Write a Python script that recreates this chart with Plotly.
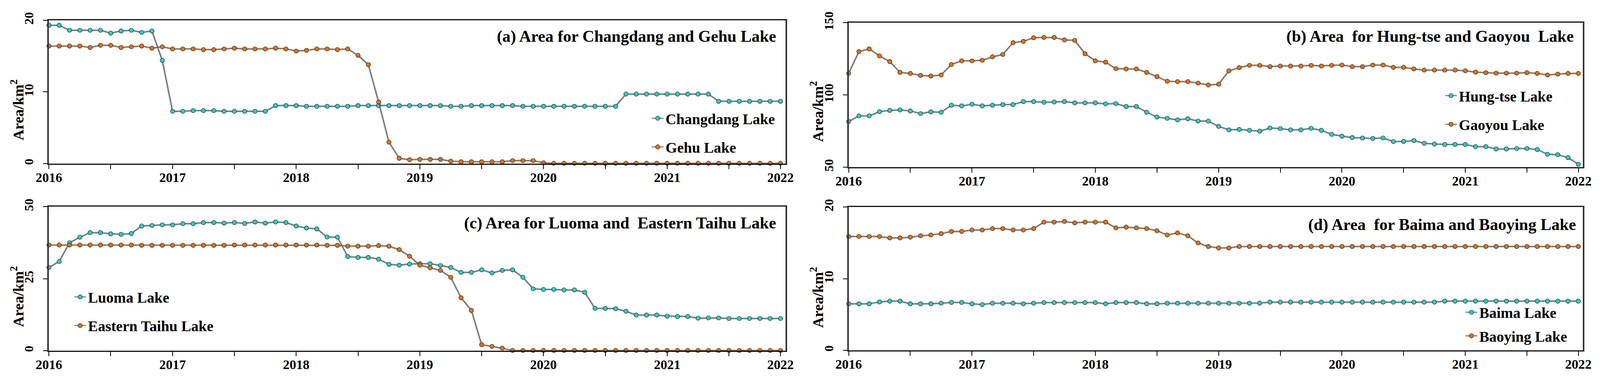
import plotly.graph_objects as go

# ---------------- data (monthly, Jan-2016 .. Dec-2021) ----------------
month_index = list(range(72))
major_ticks = [0, 12, 24, 36, 48, 60, 71]
major_labels = ["2016", "2017", "2018", "2019", "2020", "2021", "2022"]
minor_ticks = [6, 18, 30, 42, 54, 66]

changdang = [19.3, 19.3, 18.6, 18.6, 18.6, 18.6, 18.2, 18.5, 18.6, 18.3, 18.5, 14.4,
             7.3, 7.3, 7.4, 7.4, 7.4, 7.3, 7.3, 7.3, 7.3, 7.3,
             8.1, 8.1, 8.1, 8.0, 8.0, 8.0, 8.0, 8.0, 8.1, 8.1, 8.1, 8.1, 8.1, 8.1,
             8.1, 8.1, 8.1, 8.0, 8.0, 8.1, 8.1, 8.1, 8.1, 8.1, 8.0, 8.0,
             8.0, 8.0, 8.0, 8.0, 8.0, 8.0, 8.0, 8.0,
             9.7, 9.7, 9.7, 9.7, 9.7, 9.7, 9.7, 9.7, 9.7,
             8.7, 8.7, 8.7, 8.7, 8.7, 8.7, 8.7]
gehu = [16.4, 16.4, 16.4, 16.4, 16.2, 16.5, 16.5, 16.2, 16.3, 16.4, 16.1, 16.3,
        16.0, 16.0, 16.0, 15.9, 15.9, 16.0, 16.1, 16.0, 16.0, 16.0, 16.1, 16.0,
        15.7, 15.8, 16.0, 16.0, 15.9, 16.0,
        15.1, 13.8, 8.6, 3.0, 0.75, 0.55, 0.6, 0.6, 0.6, 0.35,
        0.27, 0.27, 0.27, 0.27, 0.27, 0.43, 0.43, 0.43, 0.12,
        0.05, 0.05, 0.05, 0.05, 0.05, 0.05, 0.05, 0.05, 0.05, 0.05, 0.05, 0.05,
        0.05, 0.05, 0.05, 0.05, 0.05, 0.05, 0.05, 0.05, 0.05, 0.05, 0.05]

hungtse = [81.6, 85.5, 85.5, 88.4, 89.3, 89.6, 88.9, 87.1, 88.3, 88.0, 92.9, 92.4,
           93.6, 92.4, 92.9, 93.3, 93.3, 95.4, 95.4, 94.9, 95.1, 95.4, 94.5, 94.5,
           94.5, 93.8, 94.0, 92.0, 92.0, 88.0, 84.7, 83.8, 82.7, 83.5, 81.9, 81.9,
           78.2, 75.8, 76.1, 75.5, 74.9, 77.1, 76.7, 75.8, 75.8, 76.9, 75.5, 72.7,
           71.4, 70.5, 70.2, 69.9, 70.2, 67.7, 67.8, 68.4, 66.5, 66.0, 65.7, 65.7,
           65.7, 64.2, 64.2, 62.6, 62.6, 62.9, 62.9, 62.2, 58.9, 58.6, 56.6, 52.0]
gaoyou = [114.9, 130.0, 131.9, 127.0, 123.1, 115.6, 114.9, 113.5, 113.1, 113.8, 121.1, 123.6,
          123.6, 124.0, 126.4, 128.0, 136.2, 137.1, 139.6, 139.8, 139.8, 138.1, 137.8, 128.5,
          123.6, 122.7, 118.2, 118.0, 118.0, 115.6, 112.7, 109.5, 109.2, 109.2, 108.2, 106.9,
          107.4, 116.7, 118.9, 120.5, 120.5, 119.6, 120.0, 120.0, 120.0, 120.5, 120.0, 120.5,
          120.7, 119.6, 119.6, 120.7, 120.7, 119.1, 119.1, 118.0, 117.2, 117.2, 117.2, 117.2,
          116.7, 115.8, 115.4, 115.1, 115.1, 115.1, 115.4, 114.9, 113.8, 114.4, 114.9, 114.9]

luoma = [28.9, 31.0, 37.5, 39.4, 41.0, 41.0, 40.6, 40.4, 40.7, 43.3, 43.5, 43.7,
         43.7, 44.1, 44.1, 44.5, 44.5, 44.3, 44.5, 44.2, 44.7, 44.3, 44.7, 44.5,
         43.3, 42.6, 42.3, 39.5, 39.4, 32.7, 32.4, 32.4, 31.8, 30.0, 29.7, 30.1,
         30.2, 30.2, 29.6, 28.9, 27.2, 27.2, 28.1, 27.0, 27.9, 28.1, 25.5, 21.5,
         21.3, 21.3, 21.1, 21.1, 20.3, 14.7, 14.7, 14.6, 13.7, 12.4, 12.4, 12.4,
         12.0, 11.9, 11.9, 11.3, 11.4, 11.4, 11.2, 11.2, 11.2, 11.2, 11.2, 11.2]
eastern_taihu = [36.7, 36.7, 36.7, 36.7, 36.7, 36.7, 36.7, 36.7, 36.7,
                 36.6, 36.6, 36.6, 36.6, 36.6, 36.6, 36.6, 36.6, 36.6,
                 36.7, 36.7, 36.7, 36.7, 36.7, 36.7, 36.7, 36.7, 36.7,
                 36.6, 36.6, 36.3, 36.3, 36.3, 36.5, 36.3, 35.1, 32.8,
                 29.7, 28.8, 27.9, 25.5, 18.4, 14.0, 2.1, 1.5, 0.9,
                 0.1, 0.1, 0.1, 0.1, 0.1, 0.1, 0.1, 0.1, 0.1, 0.1, 0.1, 0.1, 0.1, 0.1,
                 0.1, 0.1, 0.1, 0.1, 0.1, 0.1, 0.1, 0.1, 0.1, 0.1, 0.1, 0.1, 0.1]

baima = [6.5, 6.5, 6.5, 6.76, 6.87, 6.87, 6.5, 6.5, 6.5, 6.58, 6.69, 6.69,
         6.5, 6.4, 6.58, 6.58, 6.58, 6.5, 6.58, 6.67, 6.67, 6.67, 6.67, 6.67,
         6.67, 6.5, 6.67, 6.67, 6.67, 6.5, 6.5, 6.58, 6.58, 6.58, 6.58, 6.58,
         6.58, 6.58, 6.58, 6.58, 6.6, 6.73, 6.73, 6.73, 6.73, 6.73, 6.73, 6.73,
         6.73, 6.73, 6.73, 6.73, 6.73, 6.73, 6.73, 6.73, 6.73, 6.73, 6.87, 6.87,
         6.87, 6.87, 6.87, 6.87, 6.87, 6.87, 6.87, 6.87, 6.87, 6.87, 6.87, 6.87]
baoying = [15.9, 15.9, 15.9, 15.9, 15.7, 15.7, 15.8, 16.0, 16.1, 16.3, 16.6, 16.6,
           16.8, 16.8, 17.0, 17.0, 16.8, 16.8, 17.0, 17.9, 17.9, 18.0, 17.8, 17.9,
           17.9, 17.9, 17.1, 17.2, 17.1, 17.0, 16.7, 16.1, 16.4, 16.0, 15.0, 14.5,
           14.3, 14.3, 14.5, 14.5, 14.5, 14.5, 14.5, 14.5, 14.5, 14.5, 14.5, 14.5,
           14.5, 14.5, 14.5, 14.5, 14.5, 14.5, 14.5, 14.5, 14.5, 14.5, 14.5, 14.5,
           14.5, 14.5, 14.5, 14.5, 14.5, 14.5, 14.5, 14.5, 14.5, 14.5, 14.5, 14.5]

panel_titles = ["(a) Area for Changdang and Gehu Lake",
                "(b) Area\u00a0 for Hung-tse and Gaoyou\u00a0 Lake",
                "(c) Area for Luoma and\u00a0 Eastern Taihu Lake",
                "(d) Area\u00a0 for Baima and Baoying Lake"]
y_ranges = [[0, 20], [50, 150], [0, 50], [0, 20]]
y_ticks = [[0, 10, 20], [50, 100, 150], [0, 25, 50], [0, 10, 20]]

# ---------------- styling ----------------
W, H = 4211, 973
FONT = "Liberation Serif"
CYAN = "#22D0D0"
ORANGE = "#E8700C"
LINE = "#555555"

def px_x(p):
    return p / W

def px_y(p):
    return 1 - p / H

panels = [
    dict(series=[("Changdang Lake", changdang, CYAN), ("Gehu Lake", gehu, ORANGE)],
         xd=[px_x(121), px_x(2067)], yd=[px_y(418), px_y(44.5)], xmax=71.48,
         title_xy=(px_x(2045), px_y(87)), ytitle_xy=(px_x(38), px_y(278)),
         legend=dict(x=px_x(1709), y=px_y(268), gap=21)),
    dict(series=[("Hung-tse Lake", hungtse, CYAN), ("Gaoyou Lake", gaoyou, ORANGE)],
         xd=[px_x(2234), px_x(4174)], yd=[px_y(427), px_y(51)], xmax=71.44,
         title_xy=(px_x(4152), px_y(87)), ytitle_xy=(px_x(2150), px_y(282)),
         legend=dict(x=px_x(3805), y=px_y(209), gap=21)),
    dict(series=[("Luoma Lake", luoma, CYAN), ("Eastern Taihu Lake", eastern_taihu, ORANGE)],
         xd=[px_x(121), px_x(2067)], yd=[px_y(905), px_y(530)], xmax=71.48,
         title_xy=(px_x(2045), px_y(573)), ytitle_xy=(px_x(38), px_y(764)),
         legend=dict(x=px_x(183), y=px_y(733), gap=21)),
    dict(series=[("Baima Lake", baima, CYAN), ("Baoying Lake", baoying, ORANGE)],
         xd=[px_x(2234), px_x(4174)], yd=[px_y(904), px_y(531)], xmax=71.44,
         title_xy=(px_x(4158), px_y(577)), ytitle_xy=(px_x(2150), px_y(766)),
         legend=dict(x=px_x(3859), y=px_y(773), gap=8)),
]

fig = go.Figure()
layout = dict(autosize=True, margin=dict(l=0, r=0, t=0, b=0, autoexpand=False),
              paper_bgcolor="white", plot_bgcolor="white",
              font=dict(family=FONT, color="black"), annotations=[])

for i, p in enumerate(panels):
    n = i + 1
    xa = "x" if n == 1 else f"x{n}"
    ya = "y" if n == 1 else f"y{n}"
    lg = "legend" if n == 1 else f"legend{n}"
    for name, vals, col in p["series"]:
        fig.add_trace(go.Scatter(x=month_index, y=vals, mode="lines", xaxis=xa, yaxis=ya,
                                 line=dict(color="rgba(150,150,150,0.45)", width=6),
                                 showlegend=False, hoverinfo="skip", cliponaxis=False))
    for name, vals, col in p["series"]:
        fig.add_trace(go.Scatter(x=month_index, y=vals, mode="lines+markers", name=name,
                                 xaxis=xa, yaxis=ya, legend=lg, legendgroup=f"{n}{name}",
                                 line=dict(color=LINE, width=2),
                                 marker=dict(symbol="circle", size=11, color=col,
                                             line=dict(color="#2a2a2a", width=1.2)),
                                 cliponaxis=False))
    layout[f"xaxis{'' if n == 1 else n}"] = dict(
        domain=p["xd"], anchor=ya, range=[0, p["xmax"]],
        tickmode="array", tickvals=major_ticks, ticktext=major_labels,
        ticks="outside", ticklen=11, tickwidth=2, tickcolor="black",
        ticklabelstandoff=-8,
        minor=dict(tickmode="array", tickvals=minor_ticks, ticks="outside",
                   ticklen=11, tickwidth=2, tickcolor="black", showgrid=False),
        showline=True, linecolor="#111111", linewidth=3, mirror=True,
        showgrid=False, zeroline=False, automargin=False,
        tickfont=dict(family=FONT, size=34, color="black", weight="bold"))
    layout[f"yaxis{'' if n == 1 else n}"] = dict(
        domain=p["yd"], anchor=xa, range=y_ranges[i],
        tickmode="array", tickvals=y_ticks[i], ticktext=[str(v) for v in y_ticks[i]],
        ticks="outside", ticklen=11, tickwidth=2, tickcolor="black",
        ticklabelstandoff=12,
        showline=True, linecolor="#333333", linewidth=4, mirror=True,
        showgrid=False, zeroline=False, tickangle=-90, automargin=False,
        tickfont=dict(family=FONT, size=32, color="black", weight="bold"))
    layout[lg] = dict(x=p["legend"]["x"], y=p["legend"]["y"], xanchor="left", yanchor="top",
                      bgcolor="rgba(0,0,0,0)", borderwidth=0,
                      tracegroupgap=p["legend"]["gap"], traceorder="grouped",
                      font=dict(family=FONT, size=38, color="black", weight="bold"))
    layout["annotations"].append(dict(
        text=panel_titles[i], x=p["title_xy"][0], y=p["title_xy"][1],
        xref="paper", yref="paper", xanchor="right", yanchor="middle", showarrow=False,
        font=dict(family=FONT, size=42, color="black", weight="bold")))
    layout["annotations"].append(dict(
        text="Area/km<sup>2</sup>", x=p["ytitle_xy"][0], y=p["ytitle_xy"][1],
        xref="paper", yref="paper", xanchor="center", yanchor="middle", showarrow=False,
        textangle=-90, font=dict(family=FONT, size=38, color="black", weight="bold")))

fig.update_layout(**layout)
fig.write_html("out.html", config={"responsive": True},
               default_width="calc(100vw - 16px)", default_height="calc(100vh - 16px)")
